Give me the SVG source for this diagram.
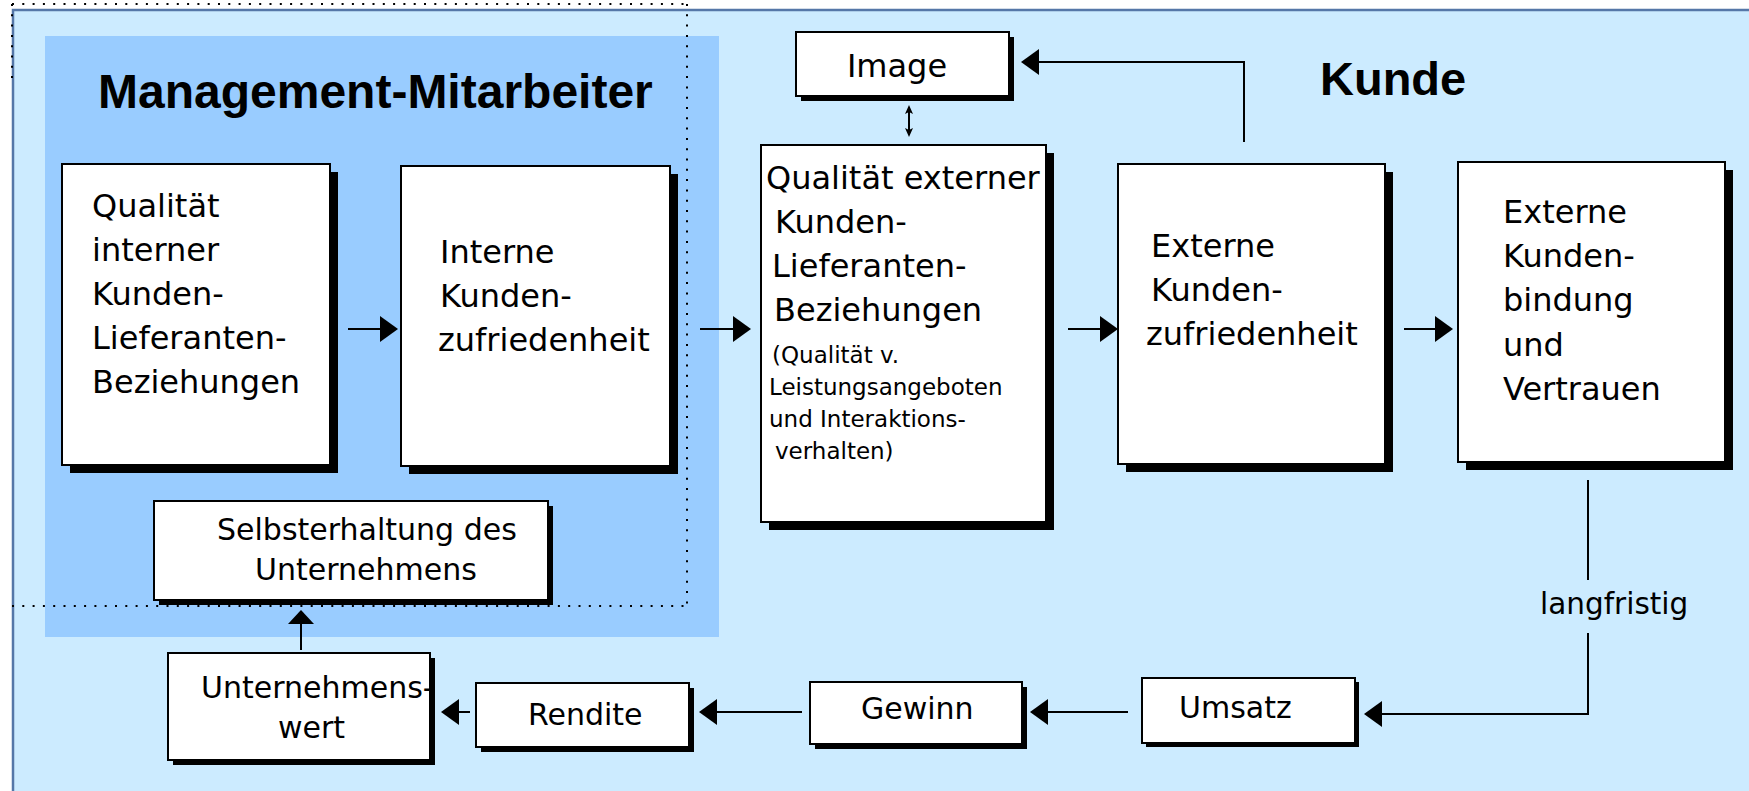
<svg xmlns="http://www.w3.org/2000/svg" width="1749" height="791" viewBox="0 0 1749 791">
  <defs>
    <style>
      .box { fill: #ffffff; stroke: #000000; stroke-width: 2; }
      .shadow { fill: #000000; }
      .txt { font-family: "DejaVu Sans", Verdana, sans-serif; font-size: 32px; fill: #000000; }
      .sm { font-size: 23px; }
      .mid { font-size: 30px; }
      .head { font-family: "Liberation Sans", Arial, sans-serif; font-weight: bold; font-size: 48px; fill: #000000; }
      .conn { fill: none; stroke: #000000; stroke-width: 2; }
      .dots { fill: none; stroke: #000000; stroke-width: 2; stroke-dasharray: 2 8.3; }
    </style>
    <marker id="ah" markerUnits="userSpaceOnUse" markerWidth="18" markerHeight="26" viewBox="0 0 18 26" refX="14" refY="13" orient="auto">
      <path d="M0,0 L18,13 L0,26 z" fill="#000000"/>
    </marker>
    <marker id="ahw" markerUnits="userSpaceOnUse" markerWidth="14" markerHeight="26" viewBox="0 0 14 26" refX="10" refY="13" orient="auto">
      <path d="M0,0 L14,13 L0,26 z" fill="#000000"/>
    </marker>
    <marker id="ahs" markerUnits="userSpaceOnUse" markerWidth="9" markerHeight="9" viewBox="0 0 9 9" refX="7" refY="4.5" orient="auto-start-reverse">
      <path d="M0,0.5 L9,4.5 L0,8.5 L2,4.5 z" fill="#000000"/>
    </marker>
  </defs>

  <!-- background panels -->
  <rect x="0" y="0" width="1749" height="791" fill="#ffffff"/>
  <rect id="panel-kunde" x="13" y="10" width="1750" height="800" fill="#CCEBFF" stroke="#5577A8" stroke-width="2.5"/>
  <rect id="panel-management" x="45" y="36" width="674" height="601" fill="#99CCFF"/>

  <!-- section headings -->
  <text class="head" x="98" y="108">Management-Mitarbeiter</text>
  <text class="head" x="1320" y="95" style="font-size:47px">Kunde</text>

  <!-- nodes -->
  <g id="n-qualitaet-intern">
    <rect class="shadow" x="70" y="172" width="268" height="301"/>
    <rect class="box" x="62" y="164" width="268" height="301"/>
    <text class="txt" x="92" y="217">Qualität</text>
    <text class="txt" x="92" y="261">interner</text>
    <text class="txt" x="92" y="305">Kunden-</text>
    <text class="txt" x="92" y="349">Lieferanten-</text>
    <text class="txt" x="92" y="393">Beziehungen</text>
  </g>

  <g id="n-interne-zufriedenheit">
    <rect class="shadow" x="409" y="174" width="269" height="300"/>
    <rect class="box" x="401" y="166" width="269" height="300"/>
    <text class="txt" x="440" y="263">Interne</text>
    <text class="txt" x="440" y="307">Kunden-</text>
    <text class="txt" x="438" y="351">zufriedenheit</text>
  </g>

  <g id="n-qualitaet-extern">
    <rect class="shadow" x="769" y="153" width="285" height="377"/>
    <rect class="box" x="761" y="145" width="285" height="377"/>
    <text class="txt" x="766" y="189">Qualität externer</text>
    <text class="txt" x="775" y="233">Kunden-</text>
    <text class="txt" x="772" y="277">Lieferanten-</text>
    <text class="txt" x="774" y="321">Beziehungen</text>
    <text class="txt sm" x="772" y="363">(Qualität v.</text>
    <text class="txt sm" x="769" y="395">Leistungsangeboten</text>
    <text class="txt sm" x="769" y="427">und Interaktions-</text>
    <text class="txt sm" x="775" y="459">verhalten)</text>
  </g>

  <g id="n-image">
    <rect class="shadow" x="801" y="37" width="213" height="64"/>
    <rect class="box" x="796" y="32" width="213" height="64"/>
    <text class="txt" x="897" y="77" text-anchor="middle">Image</text>
  </g>

  <g id="n-externe-zufriedenheit">
    <rect class="shadow" x="1126" y="172" width="267" height="300"/>
    <rect class="box" x="1118" y="164" width="267" height="300"/>
    <text class="txt" x="1151" y="257">Externe</text>
    <text class="txt" x="1151" y="301">Kunden-</text>
    <text class="txt" x="1146" y="345">zufriedenheit</text>
  </g>

  <g id="n-kundenbindung">
    <rect class="shadow" x="1466" y="170" width="267" height="300"/>
    <rect class="box" x="1458" y="162" width="267" height="300"/>
    <text class="txt" x="1503" y="223">Externe</text>
    <text class="txt" x="1503" y="267">Kunden-</text>
    <text class="txt" x="1503" y="311">bindung</text>
    <text class="txt" x="1503" y="356">und</text>
    <text class="txt" x="1503" y="400">Vertrauen</text>
  </g>

  <g id="n-selbsterhaltung">
    <rect class="shadow" x="159" y="506" width="394" height="99"/>
    <rect class="box" x="154" y="501" width="394" height="99"/>
    <text class="txt mid" x="217" y="540">Selbsterhaltung des</text>
    <text class="txt mid" x="255" y="580">Unternehmens</text>
  </g>

  <g id="n-unternehmenswert">
    <rect class="shadow" x="173" y="658" width="262" height="107"/>
    <rect class="box" x="168" y="653" width="262" height="107"/>
    <text class="txt mid" x="201" y="698">Unternehmens-</text>
    <text class="txt mid" x="278" y="738">wert</text>
  </g>

  <g id="n-rendite">
    <rect class="shadow" x="481" y="688" width="213" height="64"/>
    <rect class="box" x="476" y="683" width="213" height="64"/>
    <text class="txt mid" x="528" y="725">Rendite</text>
  </g>

  <g id="n-gewinn">
    <rect class="shadow" x="815" y="687" width="212" height="62"/>
    <rect class="box" x="810" y="682" width="212" height="62"/>
    <text class="txt mid" x="861" y="719">Gewinn</text>
  </g>

  <g id="n-umsatz">
    <rect class="shadow" x="1146" y="682" width="213" height="65"/>
    <rect class="box" x="1142" y="678" width="213" height="65"/>
    <text class="txt mid" x="1179" y="718">Umsatz</text>
  </g>

  <!-- connectors -->
  <g id="connectors">
    <line class="conn" x1="348" y1="329" x2="394" y2="329" marker-end="url(#ah)"/>
    <line class="conn" x1="700" y1="329" x2="747" y2="329" marker-end="url(#ah)"/>
    <line class="conn" x1="1068" y1="329" x2="1114" y2="329" marker-end="url(#ah)"/>
    <line class="conn" x1="1404" y1="329" x2="1449" y2="329" marker-end="url(#ah)"/>
    <polyline class="conn" points="1244,142 1244,62 1025,62" marker-end="url(#ah)"/>
    <line class="conn" x1="909" y1="107" x2="909" y2="135" stroke-width="1.5" marker-start="url(#ahs)" marker-end="url(#ahs)"/>
    <line class="conn" x1="1588" y1="480" x2="1588" y2="580"/>
    <polyline class="conn" points="1588,633 1588,714 1368,714" marker-end="url(#ah)"/>
    <text class="txt mid" x="1540" y="614" style="font-size:29.5px">langfristig</text>
    <line class="conn" x1="1128" y1="712" x2="1034" y2="712" marker-end="url(#ah)"/>
    <line class="conn" x1="802" y1="712" x2="703" y2="712" marker-end="url(#ah)"/>
    <line class="conn" x1="470" y1="712" x2="445" y2="712" marker-end="url(#ah)"/>
    <line class="conn" x1="301" y1="650" x2="301" y2="614" marker-end="url(#ahw)"/>
  </g>

  <!-- dotted frame -->
  <path class="dots" d="M12,4 H688 M687,4 V606 M12,606 H688 M12,4 V86"/>
</svg>
